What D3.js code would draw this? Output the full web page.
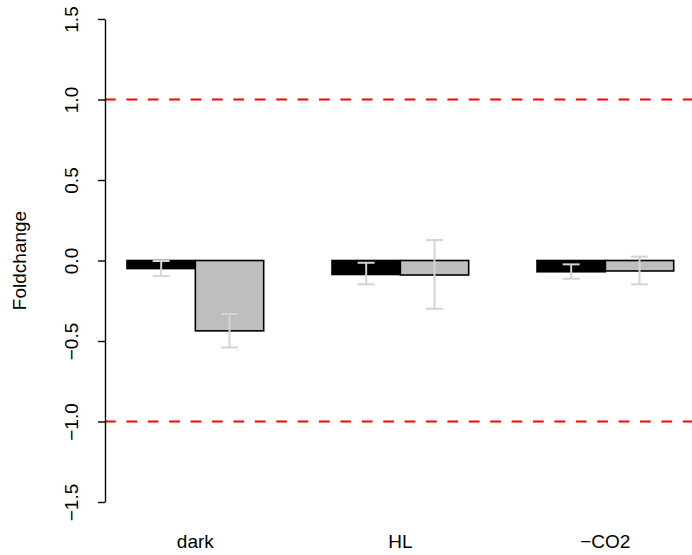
<!DOCTYPE html>
<html>
<head>
<meta charset="utf-8">
<script src="https://cdn.jsdelivr.net/npm/d3@7"></script>
<style>
  html, body { margin: 0; padding: 0; background: #ffffff; }
  text { font-family: "Liberation Sans", Arial, Helvetica, sans-serif; }
</style>
</head>
<body>
<svg id="chart" width="692" height="555"></svg>
<script>
// ---- data ----
const categories = ["dark", "HL", "\u2212CO2"];
const seriesNames = ["s1", "s2"];
const series1 = [-0.05, -0.087, -0.07];     // black bars
const series2 = [-0.437, -0.09, -0.065];    // gray bars
const err1Low  = [-0.097, -0.148, -0.113];
const err1High = [-0.003, -0.014, -0.024];
const err2Low  = [-0.540, -0.300, -0.148];
const err2High = [-0.333, 0.127, 0.024];
const yTicks = [-1.5, -1.0, -0.5, 0.0, 0.5, 1.0, 1.5];
const refLines = [1, -1];
const yLabel = "Foldchange";

const fills = ["#000000", "#BEBEBE"];

const svg = d3.select("#chart");
const W = 692, H = 555;
const axisX = 105;
const fontSize = 19;

const y = d3.scaleLinear().domain([-1.5, 1.5]).range([502, 19]);
const xGroup = d3.scaleBand().domain(categories).range([127, 673.7]).paddingInner(1 / 3).paddingOuter(0);
const xSeries = d3.scaleBand().domain(seriesNames).range([0, xGroup.bandwidth()]);

const rows = [];
categories.forEach((c, i) => {
  rows.push({cat: c, s: "s1", v: series1[i], lo: err1Low[i], hi: err1High[i], fill: fills[0]});
  rows.push({cat: c, s: "s2", v: series2[i], lo: err2Low[i], hi: err2High[i], fill: fills[1]});
});

// reference lines
svg.append("g").selectAll("line").data(refLines).join("line")
  .attr("x1", axisX).attr("x2", W)
  .attr("y1", d => y(d)).attr("y2", d => y(d))
  .attr("stroke", "#FF0000").attr("stroke-width", 2)
  .attr("stroke-dasharray", "10.7,10.7");

// bars
svg.append("g").selectAll("rect").data(rows).join("rect")
  .attr("x", d => xGroup(d.cat) + xSeries(d.s))
  .attr("width", xSeries.bandwidth())
  .attr("y", d => y(Math.max(0, d.v)))
  .attr("height", d => Math.abs(y(d.v) - y(0)))
  .attr("fill", d => d.fill)
  .attr("stroke", "#000000").attr("stroke-width", 1.6);

// error bars
const capW = 17;
const eg = svg.append("g").attr("stroke", "#D3D3D3").attr("stroke-width", 2);
rows.forEach(d => {
  const cx = xGroup(d.cat) + xSeries(d.s) + xSeries.bandwidth() / 2;
  eg.append("line").attr("x1", cx).attr("x2", cx).attr("y1", y(d.lo)).attr("y2", y(d.hi));
  eg.append("line").attr("x1", cx - capW / 2).attr("x2", cx + capW / 2).attr("y1", y(d.lo)).attr("y2", y(d.lo));
  eg.append("line").attr("x1", cx - capW / 2).attr("x2", cx + capW / 2).attr("y1", y(d.hi)).attr("y2", y(d.hi));
});

// y axis
const yAxis = d3.axisLeft(y).tickValues(yTicks).tickSize(7).tickSizeOuter(0)
  .tickFormat(d3.format(".1f"));
const ga = svg.append("g").attr("transform", `translate(${axisX},0)`).call(yAxis);
ga.select(".domain").attr("stroke", "#000").attr("stroke-width", 1.4);
ga.selectAll(".tick line").attr("stroke", "#000").attr("stroke-width", 1.4);
ga.selectAll(".tick text")
  .attr("x", 0).attr("dy", 0)
  .attr("transform", "translate(-27,0) rotate(-90)")
  .attr("text-anchor", "middle")
  .attr("font-size", fontSize)
  .attr("font-family", "Liberation Sans, Arial, sans-serif")
  .attr("fill", "#000");

// y label
svg.append("text")
  .attr("transform", `translate(26,${y(0)}) rotate(-90)`)
  .attr("text-anchor", "middle")
  .attr("font-size", fontSize)
  .text(yLabel);

// x labels
svg.append("g").selectAll("text").data(categories).join("text")
  .attr("x", d => xGroup(d) + xGroup.bandwidth() / 2)
  .attr("y", 548)
  .attr("text-anchor", "middle")
  .attr("font-size", fontSize)
  .text(d => d);
</script>
</body>
</html>
